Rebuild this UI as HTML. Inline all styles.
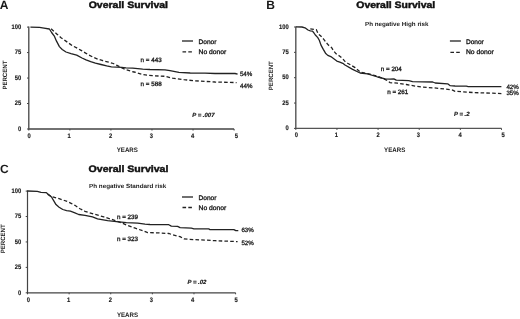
<!DOCTYPE html>
<html><head><meta charset="utf-8"><title>Overall Survival</title>
<style>
html,body{margin:0;padding:0;background:#fff;}
body{width:520px;height:319px;overflow:hidden;}
svg{display:block;}
text{-webkit-font-smoothing:antialiased;text-rendering:geometricPrecision;}
text{font-family:"Liberation Sans", sans-serif;fill:#1a1a1a;}
.let{font-size:12px;font-weight:bold;}
.ttl{font-size:9.4px;font-weight:bold;fill:#111;stroke:#111;stroke-width:0.45px;}
.sub{font-size:6px;font-weight:bold;fill:#222;}
.yl{font-size:6.6px;font-weight:bold;text-anchor:end;fill:#1a1a1a;stroke:#1a1a1a;stroke-width:0.15px;}
.xl{font-size:6.6px;font-weight:bold;text-anchor:middle;fill:#1a1a1a;stroke:#1a1a1a;stroke-width:0.15px;}
.at{font-size:6.4px;font-weight:bold;fill:#222;}
.atc{font-size:6.2px;font-weight:bold;fill:#222;}
.lg{font-size:6.5px;fill:#1a1a1a;stroke:#1a1a1a;stroke-width:0.32px;}
.pc{font-size:6.2px;fill:#1a1a1a;stroke:#1a1a1a;stroke-width:0.28px;}
.pv{font-size:6px;font-weight:bold;font-style:italic;fill:#222;stroke:#222;stroke-width:0.2px;}
.ax{fill:none;stroke:#444;stroke-width:1.3;}
.tk{fill:none;stroke:#444;stroke-width:1;}
.cs{fill:none;stroke:#222;stroke-width:1.3;stroke-linejoin:round;}
.cd{fill:none;stroke:#222;stroke-width:1.3;stroke-dasharray:3.6 2.2;}
</style></head>
<body>
<div style="will-change:transform;background:transparent"><svg width="520" height="319" viewBox="0 0 520 319">
<rect width="520" height="319" fill="#fff"/>
<text x="-0.2" y="8.5" class="let">A</text>
<text x="88.7" y="7.5" class="ttl" textLength="79.3" lengthAdjust="spacingAndGlyphs">Overall Survival</text>
<path d="M28.8,26.6 V129.0 H234.1" class="ax" style=""/>
<path d="M27.0,129.00 H28.8" class="tk"/>
<text transform="translate(21.2,130.70) scale(0.88,1)" class="yl">0</text>
<path d="M27.0,103.53 H28.8" class="tk"/>
<text transform="translate(21.2,105.23) scale(0.88,1)" class="yl">25</text>
<path d="M27.0,78.05 H28.8" class="tk"/>
<text transform="translate(21.2,79.75) scale(0.88,1)" class="yl">50</text>
<path d="M27.0,52.57 H28.8" class="tk"/>
<text transform="translate(21.2,54.27) scale(0.88,1)" class="yl">75</text>
<path d="M27.0,27.10 H28.8" class="tk"/>
<text transform="translate(21.2,28.80) scale(0.88,1)" class="yl">100</text>
<path d="M28.80,129.0 V130.5" class="tk"/>
<text transform="translate(29.00,137.7) scale(0.88,1)" class="xl">0</text>
<path d="M69.86,129.0 V130.5" class="tk"/>
<text transform="translate(69.00,137.7) scale(0.88,1)" class="xl">1</text>
<path d="M110.92,129.0 V130.5" class="tk"/>
<text transform="translate(110.60,137.7) scale(0.88,1)" class="xl">2</text>
<path d="M151.98,129.0 V130.5" class="tk"/>
<text transform="translate(151.40,137.7) scale(0.88,1)" class="xl">3</text>
<path d="M193.04,129.0 V130.5" class="tk"/>
<text transform="translate(192.60,137.7) scale(0.88,1)" class="xl">4</text>
<path d="M234.10,129.0 V130.5" class="tk"/>
<text transform="translate(236.40,137.7) scale(0.88,1)" class="xl">5</text>
<text x="116.7" y="151.7" class="at" textLength="21.2" lengthAdjust="spacingAndGlyphs">YEARS</text>
<text transform="translate(6.6,89.6) rotate(-90)" x="0" y="0" class="atc" textLength="29" lengthAdjust="spacingAndGlyphs">PERCENT</text>
<path d="M182,41 h11" class="cs"/>
<path d="M182.5,51.8 h10.5" class="cd"/>
<text x="198.5" y="43.9" class="lg" textLength="17.9" lengthAdjust="spacingAndGlyphs">Donor</text>
<text x="198.5" y="54.2" class="lg" textLength="27.8" lengthAdjust="spacingAndGlyphs">No donor</text>
<text x="140.6" y="61.6" class="lg" style="font-size:6.25px">n = 443</text>
<text x="140.6" y="85.8" class="lg" style="font-size:6.25px">n = 588</text>
<text x="239.9" y="75.7" class="pc">54%</text>
<text x="240" y="87.7" class="pc">44%</text>
<text x="192.2" y="117.4" class="pv">P = .007</text>
<polyline points="30.4,27.2 39.5,27.3 44.0,28.1 49.4,29.0 51.6,32.5 54.5,36.4 56.4,40.9 59.4,46.6 62.2,49.5 66.0,52.0 71.0,53.6 76.7,55.1 82.0,58.0 86.0,59.8 90.7,61.6 95.4,63.1 101.0,64.5 106.7,65.9 111.4,66.8 117.0,67.1 121.8,67.3 126.0,67.8 132.7,68.2 142.7,69.1 150.0,69.5 165.0,69.8 170.0,70.7 178.9,72.3 190.2,73.0 205.0,73.2 215.0,73.5 235.0,73.5 237.6,74.2" class="cs"/>
<polyline points="51.1,28.8 53.9,31.3 57.3,34.4 60.7,37.5 65.2,40.6 72.3,45.7 76.7,47.9 81.1,50.4 84.8,52.6 88.9,55.0 93.5,57.4 98.2,59.3 102.9,60.7 108.6,62.1 113.3,63.5 117.0,65.4 120.8,67.3 125.5,69.6 134.0,72.0 142.7,74.5 152.5,75.7 165.0,76.3 172.6,78.2 184.0,79.7 194.0,80.7 205.0,81.4 215.0,82.0 236.6,82.6" class="cd"/>
<text x="266.2" y="8.7" class="let">B</text>
<text x="356.3" y="7.6" class="ttl" textLength="78.9" lengthAdjust="spacingAndGlyphs">Overall Survival</text>
<text x="365" y="26.2" class="sub" textLength="63.5" lengthAdjust="spacingAndGlyphs">Ph negative High risk</text>
<path d="M295.8,26.5 V128.4 H501.5" class="ax" style="stroke:#555;stroke-width:1.4"/>
<path d="M294.0,128.40 H295.8" class="tk"/>
<text transform="translate(288.8,130.10) scale(0.88,1)" class="yl">0</text>
<path d="M294.0,103.05 H295.8" class="tk"/>
<text transform="translate(288.8,104.75) scale(0.88,1)" class="yl">25</text>
<path d="M294.0,77.70 H295.8" class="tk"/>
<text transform="translate(288.8,79.40) scale(0.88,1)" class="yl">50</text>
<path d="M294.0,52.35 H295.8" class="tk"/>
<text transform="translate(288.8,54.05) scale(0.88,1)" class="yl">75</text>
<path d="M294.0,27.00 H295.8" class="tk"/>
<text transform="translate(288.8,28.70) scale(0.88,1)" class="yl">100</text>
<path d="M295.80,128.4 V129.9" class="tk"/>
<text transform="translate(296.40,137.2) scale(0.88,1)" class="xl">0</text>
<path d="M336.94,128.4 V129.9" class="tk"/>
<text transform="translate(336.40,137.2) scale(0.88,1)" class="xl">1</text>
<path d="M378.08,128.4 V129.9" class="tk"/>
<text transform="translate(378.00,137.2) scale(0.88,1)" class="xl">2</text>
<path d="M419.22,128.4 V129.9" class="tk"/>
<text transform="translate(418.40,137.2) scale(0.88,1)" class="xl">3</text>
<path d="M460.36,128.4 V129.9" class="tk"/>
<text transform="translate(460.00,137.2) scale(0.88,1)" class="xl">4</text>
<path d="M501.50,128.4 V129.9" class="tk"/>
<text transform="translate(503.00,137.2) scale(0.88,1)" class="xl">5</text>
<text x="384.1" y="151.7" class="at" textLength="21.2" lengthAdjust="spacingAndGlyphs">YEARS</text>
<text transform="translate(272.8,90.2) rotate(-90)" x="0" y="0" class="atc" textLength="29" lengthAdjust="spacingAndGlyphs">PERCENT</text>
<path d="M449.9,41 h11" class="cs"/>
<path d="M450.4,52.3 h10.5" class="cd"/>
<text x="465.9" y="44.4" class="lg" textLength="17.9" lengthAdjust="spacingAndGlyphs">Donor</text>
<text x="465.9" y="54.4" class="lg" textLength="27.8" lengthAdjust="spacingAndGlyphs">No donor</text>
<text x="380.8" y="71.2" class="lg" style="font-size:6.25px">n = 204</text>
<text x="387.2" y="94.2" class="lg" style="font-size:6.25px">n = 261</text>
<text x="506.4" y="89.0" class="pc">42%</text>
<text x="506.4" y="95.3" class="pc">35%</text>
<text x="454" y="116.0" class="pv">P = .2</text>
<polyline points="296.0,26.9 302.0,27.0 305.0,27.8 308.0,30.0 310.3,30.8 312.5,31.2 314.0,33.0 315.6,35.3 317.8,37.6 319.3,40.2 321.0,45.1 323.3,49.4 325.5,53.2 327.8,55.4 330.8,56.6 333.8,58.8 336.8,61.1 339.8,62.2 342.8,63.3 345.0,65.0 352.6,69.4 360.1,73.0 367.6,73.8 377.7,77.0 385.2,78.9 390.0,79.1 393.8,78.8 396.3,80.1 408.8,80.7 412.6,81.6 432.7,82.0 435.2,83.0 447.7,83.8 450.2,85.7 455.0,86.0 466.3,86.1 468.2,86.6 501.4,86.6" class="cs"/>
<polyline points="310.3,28.8 316.3,29.6 318.2,33.8 320.8,36.0 323.8,39.4 326.1,42.4 328.4,45.1 331.5,47.5 333.8,51.1 336.1,53.8 339.8,56.2 342.8,58.8 345.1,61.6 347.6,63.2 355.1,67.6 360.1,72.0 367.6,73.6 377.7,76.3 386.5,80.1 390.0,82.6 397.5,83.2 406.3,84.5 415.1,86.1 421.4,87.0 433.9,87.9 444.0,88.9 452.7,90.1 455.0,91.3 473.8,92.6 492.6,93.2 501.4,93.6" class="cd"/>
<text x="0.0" y="172.8" class="let">C</text>
<text x="88.6" y="172.2" class="ttl" textLength="79.8" lengthAdjust="spacingAndGlyphs">Overall Survival</text>
<text x="89" y="188.0" class="sub" textLength="77.3" lengthAdjust="spacingAndGlyphs">Ph negative Standard risk</text>
<path d="M27.5,190.6 V292.8 H235.6" class="ax" style="stroke:#444;stroke-width:1.2"/>
<path d="M25.7,292.80 H27.5" class="tk"/>
<text transform="translate(21.3,294.50) scale(0.88,1)" class="yl">0</text>
<path d="M25.7,267.38 H27.5" class="tk"/>
<text transform="translate(21.3,269.07) scale(0.88,1)" class="yl">25</text>
<path d="M25.7,241.95 H27.5" class="tk"/>
<text transform="translate(21.3,243.65) scale(0.88,1)" class="yl">50</text>
<path d="M25.7,216.53 H27.5" class="tk"/>
<text transform="translate(21.3,218.22) scale(0.88,1)" class="yl">75</text>
<path d="M25.7,191.10 H27.5" class="tk"/>
<text transform="translate(21.3,192.80) scale(0.88,1)" class="yl">100</text>
<path d="M27.50,292.8 V294.3" class="tk"/>
<text transform="translate(28.40,301.6) scale(0.88,1)" class="xl">0</text>
<path d="M69.12,292.8 V294.3" class="tk"/>
<text transform="translate(68.60,301.6) scale(0.88,1)" class="xl">1</text>
<path d="M110.74,292.8 V294.3" class="tk"/>
<text transform="translate(110.40,301.6) scale(0.88,1)" class="xl">2</text>
<path d="M152.36,292.8 V294.3" class="tk"/>
<text transform="translate(151.40,301.6) scale(0.88,1)" class="xl">3</text>
<path d="M193.98,292.8 V294.3" class="tk"/>
<text transform="translate(192.60,301.6) scale(0.88,1)" class="xl">4</text>
<path d="M235.60,292.8 V294.3" class="tk"/>
<text transform="translate(236.00,301.6) scale(0.88,1)" class="xl">5</text>
<text x="116.9" y="316.5" class="at" textLength="21.2" lengthAdjust="spacingAndGlyphs">YEARS</text>
<text transform="translate(4.9,253.3) rotate(-90)" x="0" y="0" class="atc" textLength="29" lengthAdjust="spacingAndGlyphs">PERCENT</text>
<path d="M182,197.0 h11" class="cs"/>
<path d="M182.5,207.5 h10.5" class="cd"/>
<text x="198.5" y="200.1" class="lg" textLength="17.9" lengthAdjust="spacingAndGlyphs">Donor</text>
<text x="198.5" y="209.8" class="lg" textLength="27.8" lengthAdjust="spacingAndGlyphs">No donor</text>
<text x="117" y="219.1" class="lg" style="font-size:6.25px">n = 239</text>
<text x="117" y="240.5" class="lg" style="font-size:6.25px">n = 323</text>
<text x="241.4" y="232.1" class="pc">63%</text>
<text x="241.4" y="245.3" class="pc">52%</text>
<text x="187.5" y="284.4" class="pv">P = .02</text>
<polyline points="27.3,191.0 37.3,191.3 41.0,192.3 46.1,192.6 48.5,194.4 51.5,197.0 53.8,200.8 56.0,204.6 59.1,207.2 62.8,209.5 66.6,210.6 70.4,211.2 74.9,212.9 78.7,214.5 85.0,215.3 92.5,216.9 97.5,218.8 107.6,220.7 116.4,221.6 126.4,222.6 137.7,223.2 145.0,224.1 150.0,224.5 168.8,224.7 171.3,226.1 177.6,226.3 180.1,227.6 191.4,228.2 193.9,228.8 208.8,228.9 210.0,229.7 233.9,229.7 235.8,230.7 238.3,230.7" class="cs"/>
<polyline points="47.5,194.3 51.5,196.6 55.3,197.6 59.1,198.7 63.6,200.2 67.3,201.5 71.1,203.3 74.9,205.3 80.0,208.8 85.0,211.3 95.0,214.4 103.8,216.9 113.9,220.1 122.6,223.2 126.4,225.1 135.2,228.2 142.7,230.7 147.7,232.7 157.5,232.8 168.8,233.5 172.6,234.8 180.1,236.7 183.9,238.9 195.2,239.7 205.2,240.1 215.1,240.7 237.6,241.6" class="cd"/>
</svg></div>
</body></html>
